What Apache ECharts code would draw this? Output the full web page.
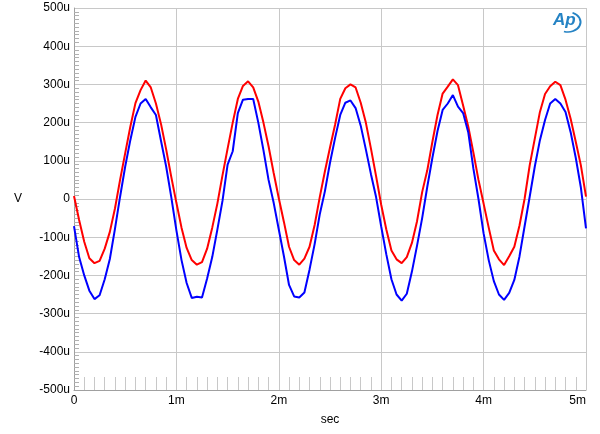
<!DOCTYPE html>
<html>
<head>
<meta charset="utf-8">
<script src="https://cdn.jsdelivr.net/npm/echarts@6/dist/echarts.min.js"></script>
<style>
  html, body { margin: 0; padding: 0; background: #fff; }
  #main { width: 600px; height: 434px; }
</style>
</head>
<body>
<div id="main"></div>
<script>
// sample step of the traces, in ms
var step = 0.05;

// red trace, uV, every 0.05 ms from 0 to 5 ms
var redValues = [
  8, -55, -112, -155, -168, -162, -130, -86, -25, 50,
  120, 189, 251, 285, 310, 292, 250, 196, 130, 58,
  -10, -75, -128, -160, -172, -165, -130, -75, -12, 62,
  132, 200, 262, 296, 308, 292, 255, 200, 138, 68,
  2, -60, -125, -160, -172, -156, -125, -68, 5, 72,
  135, 195, 262, 290, 300, 292, 252, 200, 132, 60,
  -15, -80, -135, -158, -168, -152, -115, -58, 18, 75,
  150, 220, 276, 294, 313, 298, 245, 190, 122, 50,
  -12, -75, -135, -158, -173, -150, -125, -70, 0, 88,
  158, 228, 275, 295, 307, 298, 260, 210, 150, 88,
  6
];

// blue trace, uV
var blueValues = [
  -71, -152, -200, -240, -262, -252, -210, -157, -78, 6,
  85, 154, 215, 250, 262, 240, 220, 152, 85, 5,
  -82, -160, -220, -259, -256, -258, -208, -152, -80, -5,
  90, 125, 225, 260, 262, 262, 200, 128, 50, -10,
  -80, -150, -225, -255, -258, -245, -185, -118, -40, 20,
  95, 160, 220, 252, 258, 238, 192, 130, 65, 5,
  -72, -145, -210, -250, -266, -248, -190, -122, -50, 32,
  108, 178, 233, 250, 272, 242, 225, 175, 80, 0,
  -90, -160, -215, -250, -264, -246, -212, -151, -72, 6,
  85, 154, 207, 250, 262, 250, 228, 175, 108, 30,
  -77
];

function pairs(values) {
  var out = [];
  for (var i = 0; i < values.length; i++) {
    out.push([+(i * step).toFixed(2), values[i]]);
  }
  return out;
}

var chart = echarts.init(document.getElementById('main'));
var gridColor = '#c8c8c8';
var font = 'Liberation Sans, Arial, sans-serif';

var option = {
  animation: false,
  backgroundColor: '#fff',
  textStyle: { fontFamily: font },
  grid: { left: 74, right: 14, top: 8, bottom: 44 },
  xAxis: {
    type: 'value',
    min: 0,
    max: 5,
    interval: 1,
    name: 'sec',
    nameLocation: 'middle',
    nameGap: 24,
    nameTextStyle: { color: '#000', fontSize: 12, fontFamily: font },
    axisLine: { show: true, onZero: false, lineStyle: { color: '#a0a0a0' } },
    axisTick: { show: false, inside: true },
    minorTick: { show: true, splitNumber: 10, length: 13, lineStyle: { color: '#c8c8c8' } },
    axisLabel: {
      color: '#000', fontSize: 12, margin: 5, alignMaxLabel: 'right',
      formatter: function (v) { return v === 0 ? '0' : v + 'm'; }
    },
    splitLine: { show: true, lineStyle: { color: gridColor } }
  },
  yAxis: {
    type: 'value',
    min: -500,
    max: 500,
    interval: 100,
    name: 'V',
    nameLocation: 'middle',
    nameRotate: 0,
    nameGap: 52,
    nameTextStyle: { color: '#000', fontSize: 12, fontFamily: font },
    axisLine: { show: true, onZero: false, lineStyle: { color: '#a0a0a0' } },
    axisTick: { show: false, inside: true },
    minorTick: { show: true, splitNumber: 10, length: 5, lineStyle: { color: '#b0b0b0' } },
    axisLabel: {
      color: '#000', fontSize: 12, margin: 4,
      formatter: function (v) { return v === 0 ? '0' : v + 'u'; }
    },
    splitLine: { show: true, lineStyle: { color: gridColor } }
  },
  graphic: [
    {
      type: 'text', left: 553, top: 12,
      style: { text: 'Ap', fill: '#2583c4', font: 'italic bold 17px ' + font }
    },
    {
      type: 'arc', x: 568, y: 22, scaleX: 1.25,
      shape: { cx: 0, cy: 0, r: 10, startAngle: -1.2, endAngle: 1.9 },
      style: { stroke: '#2583c4', lineWidth: 1.6, fill: null }
    }
  ],
  series: [
    {
      name: 'red', type: 'line', data: pairs(redValues),
      showSymbol: false, lineStyle: { color: '#ff0000', width: 2 }, z: 3
    },
    {
      name: 'blue', type: 'line', data: pairs(blueValues),
      showSymbol: false, lineStyle: { color: '#0000ff', width: 2 }, z: 4
    }
  ]
};
chart.setOption(option);
</script>
</body>
</html>
